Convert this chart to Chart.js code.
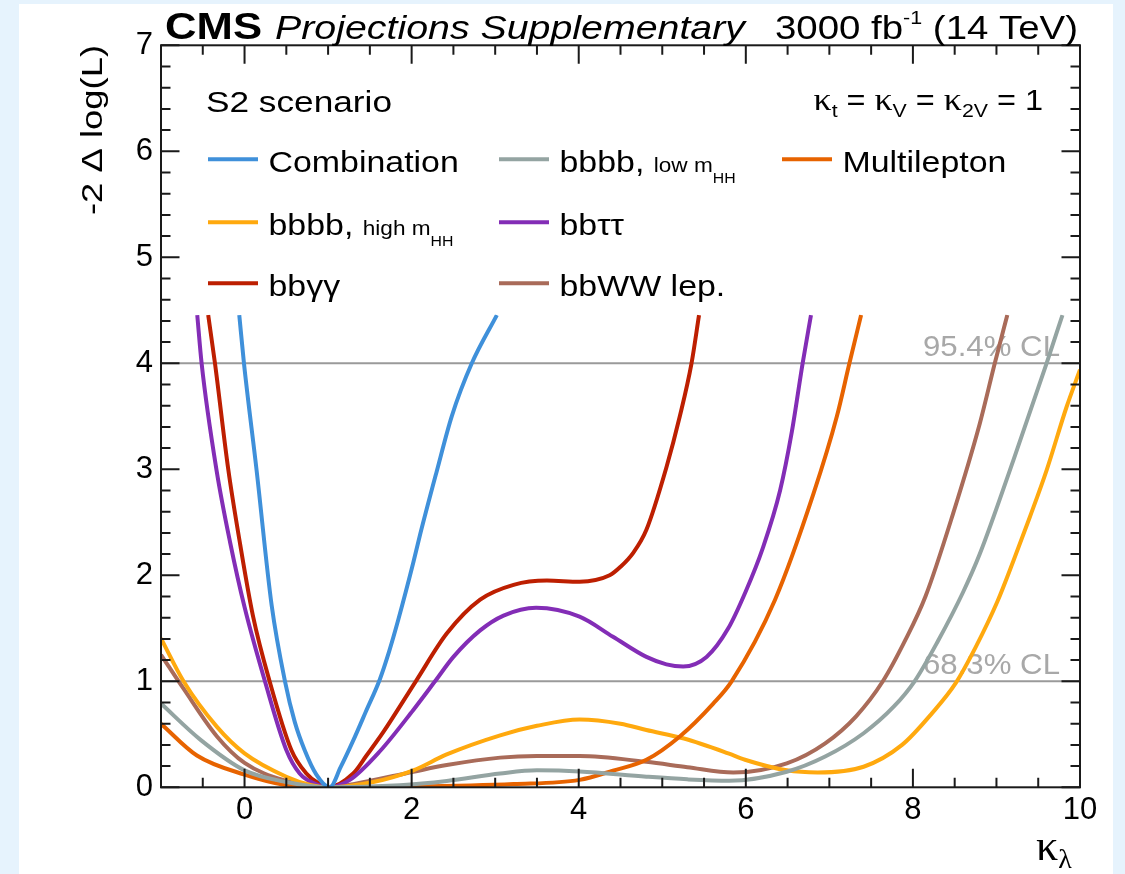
<!DOCTYPE html>
<html>
<head>
<meta charset="utf-8">
<script src="https://cdn.jsdelivr.net/npm/chart.js@4.4.1/dist/chart.umd.min.js"></script>
<style>
  html, body { margin: 0; padding: 0; background: #e6f3fd; }
  #wrap { position: absolute; left: 19px; top: 4px; width: 1094px; height: 870px; background: #fff; }
</style>
</head>
<body>
<div id="wrap"><canvas id="chartKappa" width="1094" height="870"></canvas></div>
<script>
// kappa_lambda scan points
const combX = [-0.063, -0.007, 0.145, 0.324, 0.484, 0.60, 0.72, 0.86, 1.02, 1.15, 1.30, 1.45, 1.62, 1.73, 1.84, 2.02, 2.10, 2.30, 2.48, 2.72, 3.02];
const combY = [4.455, 4.0, 2.985, 1.72, 1.0, 0.62, 0.35, 0.12, 0.0, 0.19, 0.44, 0.71, 1.02, 1.28, 1.58, 2.12, 2.38, 2.98, 3.5, 4.0, 4.455];

const lowX = [-1, -0.53, 0, 0.5, 1.0, 1.86, 2.42, 3.06, 3.5, 4.01, 4.81, 5.3, 5.8, 6.49, 6.95, 7.41, 7.77, 8.02, 8.3, 8.6, 8.8, 9.2, 9.4, 9.6, 9.79];
const lowY = [0.79, 0.45, 0.16, 0.05, 0, 0.02, 0.06, 0.13, 0.16, 0.15, 0.10, 0.075, 0.062, 0.147, 0.29, 0.51, 0.76, 1.0, 1.38, 1.84, 2.2, 3.08, 3.54, 4.0, 4.455];

const mlX = [-1, -0.57, 0, 0.5, 1.0, 2.0, 3.22, 4.01, 4.41, 4.81, 5.21, 5.61, 5.83, 6.35, 6.81, 7.09, 7.24, 7.38];
const mlY = [0.60, 0.30, 0.12, 0.02, 0, 0.005, 0.03, 0.07, 0.157, 0.26, 0.48, 0.79, 1.0, 1.77, 2.77, 3.5, 4.0, 4.455];

const highX = [-1, -0.73, -0.33, 0, 0.5, 0.8, 1.0, 1.54, 2.02, 2.42, 3.06, 3.5, 4.01, 4.5, 4.81, 5.26, 5.79, 5.99, 6.49, 6.86, 7.41, 7.87, 8.23, 8.51, 8.75, 9.01, 9.2, 9.4, 9.6, 9.84, 10.0];
const highY = [1.405, 1.0, 0.57, 0.32, 0.10, 0.02, 0, 0.05, 0.16, 0.31, 0.49, 0.58, 0.64, 0.60, 0.54, 0.46, 0.32, 0.26, 0.16, 0.14, 0.194, 0.40, 0.70, 0.98, 1.32, 1.75, 2.13, 2.55, 2.99, 3.59, 3.94];

const tautauX = [-0.566, -0.514, -0.334, -0.17, 0.0, 0.244, 0.50, 0.66, 0.85, 1.0, 1.26, 1.62, 2.02, 2.28, 2.5, 2.82, 3.1, 3.49, 4.01, 4.41, 4.81, 5.05, 5.25, 5.53, 5.79, 6.0, 6.2, 6.41, 6.55, 6.68, 6.78];
const tautauY = [4.455, 4.0, 2.985, 2.3, 1.7, 1.0, 0.352, 0.13, 0.03, 0, 0.07, 0.34, 0.73, 1.0, 1.23, 1.48, 1.62, 1.694, 1.61, 1.42, 1.23, 1.16, 1.14, 1.23, 1.50, 1.85, 2.25, 2.8, 3.35, 4.0, 4.455];

const ggX = [-0.435, -0.354, -0.195, -0.05, 0.1, 0.30, 0.56, 0.74, 0.88, 1.0, 1.30, 1.46, 1.66, 2.05, 2.42, 2.82, 3.22, 3.62, 4.01, 4.37, 4.5, 4.65, 4.81, 5.05, 5.21, 5.35, 5.44];
const ggY = [4.455, 4.0, 3.0, 2.28, 1.62, 1.0, 0.352, 0.13, 0.04, 0, 0.13, 0.3, 0.52, 1.0, 1.45, 1.77, 1.91, 1.95, 1.94, 2.0, 2.08, 2.21, 2.43, 3.02, 3.5, 4.0, 4.455];

const wwX = [-1, -0.73, -0.33, 0, 0.5, 0.8, 1.0, 1.3, 2.02, 2.42, 3.06, 3.5, 4.01, 4.81, 5.3, 5.85, 6.49, 6.95, 7.32, 7.64, 7.91, 8.15, 8.48, 8.8, 8.98, 9.13];
const wwY = [1.25, 0.93, 0.48, 0.23, 0.06, 0.015, 0, 0.03, 0.147, 0.21, 0.28, 0.295, 0.295, 0.24, 0.19, 0.14, 0.226, 0.415, 0.67, 1.0, 1.39, 1.8, 2.58, 3.43, 4.0, 4.455];

const seriesNames = ['Combination', 'bbbb, low m_HH', 'Multilepton', 'bbbb, high m_HH', 'bbττ', 'bbγγ', 'bbWW lep.'];
const seriesColors = ['#3f90da', '#94a4a2', '#e76300', '#ffa90e', '#832db6', '#bd1f01', '#a96b59'];
const seriesXs = [combX, lowX, mlX, highX, tautauX, ggX, wwX];
const seriesYs = [combY, lowY, mlY, highY, tautauY, ggY, wwY];

const xTickVals = [0, 2, 4, 6, 8, 10];
const yTickVals = [0, 1, 2, 3, 4, 5, 6, 7];
const clLevels = [1, 4];
const clNames = ['68.3% CL', '95.4% CL'];

const SANS = '"Liberation Sans", Arial, sans-serif';
const SERIF = '"Liberation Serif", "Times New Roman", serif';
const f = (size, extra) => (extra ? extra + ' ' : '') + size + 'px ' + SANS;

// legend slots (column, row) like the ROOT legend
const legendCols = [189, 480, 763];
const legendRows = [155.3, 218.3, 279.3];
const legendSlots = [[0, 0], [1, 0], [2, 0], [0, 1], [1, 1], [0, 2], [1, 2]];

// draws pieces of text one after the other, stretched by sx (the plot text is wide)
function richText(ctx, parts, x, y, sx, draw) {
    let cx = x;
    parts.forEach(p => {
        ctx.font = p.font;
        const w = ctx.measureText(p.t).width * sx;
        if (draw !== false) {
            ctx.save();
            ctx.translate(cx, y + (p.dy || 0));
            ctx.scale(sx, 1);
            ctx.textAlign = 'left';
            ctx.textBaseline = 'alphabetic';
            ctx.fillText(p.t, 0, 0);
            ctx.restore();
        }
        cx += w;
    });
    return cx - x;
}

function fitText(ctx, parts, x, y, width) {
    const w0 = richText(ctx, parts, 0, 0, 1, false);
    richText(ctx, parts, x, y, width / w0);
}

function legendParts(label) {
    const m = label.match(/^(.*?, )(.*)_(.*)$/);
    if (!m) return [{ t: label, font: f(30) }];
    return [{ t: m[1], font: f(30) }, { t: m[2], font: f(20) }, { t: m[3], font: f(14), dy: 11 }];
}

const decoPlugin = {
    id: 'deco',
    beforeDatasetsDraw(chart) {
        const { ctx, chartArea: a, scales: { y } } = chart;
        ctx.save();
        clLevels.forEach((lv, i) => {
            const py = y.getPixelForValue(lv);
            ctx.strokeStyle = '#9a9a9a';
            ctx.lineWidth = 2;
            ctx.beginPath();
            ctx.moveTo(a.left, py);
            ctx.lineTo(a.right, py);
            ctx.stroke();
            ctx.fillStyle = '#a8a8a8';
            fitText(ctx, [{ t: clNames[i], font: f(30) }], a.right - 157, py - 7.5, 137);
        });
        ctx.restore();
    },
    afterDatasetsDraw(chart) {
        const { ctx, chartArea: a, scales: { x, y } } = chart;
        ctx.save();

        // legend box hides the curves above ~4.46
        ctx.fillStyle = '#fff';
        const boxBottom = y.getPixelForValue(4.46);
        ctx.fillRect(a.left + 1, a.top + 1, a.right - a.left - 2, boxBottom - a.top - 1);

        ctx.fillStyle = '#000';
        fitText(ctx, [{ t: 'S2 scenario', font: f(29) }], 187, 107.7, 186);

        const kParts = [
            { t: 'κ', font: '32px ' + SERIF }, { t: 't', font: f(19), dy: 7 },
            { t: ' = ', font: f(29) },
            { t: 'κ', font: '32px ' + SERIF }, { t: 'V', font: f(19), dy: 7 },
            { t: ' = ', font: f(29) },
            { t: 'κ', font: '32px ' + SERIF }, { t: '2V', font: f(19), dy: 7 },
            { t: ' = 1', font: f(29) }
        ];
        const kw = richText(ctx, kParts, 0, 0, 1.12, false);
        richText(ctx, kParts, 1024 - kw, 106, 1.12);

        chart.data.datasets.forEach((ds, i) => {
            const lx = legendCols[legendSlots[i][0]];
            const ly = legendRows[legendSlots[i][1]];
            ctx.strokeStyle = ds.borderColor;
            ctx.lineWidth = 4;
            ctx.beginPath();
            ctx.moveTo(lx, ly);
            ctx.lineTo(lx + 50, ly);
            ctx.stroke();
            ctx.fillStyle = '#000';
            richText(ctx, legendParts(ds.label), lx + 60.5, ly + 12.4, 1.13);
        });

        // frame with inward ticks on all sides
        ctx.strokeStyle = '#1a1a1a';
        ctx.lineWidth = 2;
        ctx.strokeRect(a.left, a.top, a.right - a.left, a.bottom - a.top);
        ctx.beginPath();
        for (let v = -1; v <= 10.001; v += 0.5) {
            const px = x.getPixelForValue(v);
            const len = (Math.abs(v % 2) < 1e-6) ? 18.5 : 9.5;
            ctx.moveTo(px, a.bottom); ctx.lineTo(px, a.bottom - len);
            ctx.moveTo(px, a.top); ctx.lineTo(px, a.top + len);
        }
        for (let k = 0; k <= 35; k++) {
            const py = y.getPixelForValue(k * 0.2);
            const len = (k % 5 === 0) ? 18.5 : 9.5;
            ctx.moveTo(a.left, py); ctx.lineTo(a.left + len, py);
            ctx.moveTo(a.right, py); ctx.lineTo(a.right - len, py);
        }
        ctx.stroke();

        // header
        ctx.fillStyle = '#000';
        fitText(ctx, [{ t: 'CMS', font: f(37, 'bold') }], 146, 35, 97);
        fitText(ctx, [{ t: 'Projections Supplementary', font: f(34, 'italic') }], 256, 35, 470);
        fitText(ctx, [
            { t: '3000 fb', font: f(34) },
            { t: '-1', font: f(19), dy: -15 },
            { t: ' (14 TeV)', font: f(34) }
        ], 756, 35, 303);

        // axis titles
        ctx.save();
        ctx.translate(83, 211);
        ctx.rotate(-Math.PI / 2);
        fitText(ctx, [{ t: '-2 Δ log(L)', font: f(30) }], 0, 0, 170);
        ctx.restore();
        richText(ctx, [
            { t: 'κ', font: '44px ' + SERIF },
            { t: 'λ', font: '28px ' + SERIF, dy: 8 }
        ], 1017, 856, 1);

        ctx.restore();
    }
};

const ctx = document.getElementById('chartKappa').getContext('2d');
const chart = new Chart(ctx, {
    type: 'line',
    data: {
        datasets: seriesNames.map((name, i) => ({
            label: name,
            data: seriesXs[i].map((xv, j) => ({ x: xv, y: seriesYs[i][j] })),
            borderColor: seriesColors[i],
            borderWidth: 4,
            pointRadius: 0,
            fill: false,
            cubicInterpolationMode: 'monotone'
        }))
    },
    options: {
        responsive: false,
        devicePixelRatio: 1,
        animation: false,
        layout: { padding: { left: 0, top: 41.3, right: 33, bottom: 0 } },
        plugins: {
            legend: { display: false },
            tooltip: { enabled: false }
        },
        scales: {
            x: {
                type: 'linear',
                min: -1,
                max: 10,
                afterBuildTicks: s => { s.ticks = xTickVals.map(v => ({ value: v })); },
                afterFit: s => { s.height = 86.7; },
                grid: { display: false, drawTicks: false },
                border: { display: false },
                ticks: {
                    color: '#000',
                    font: { family: SANS, size: 31 },
                    padding: 5,
                    maxRotation: 0
                }
            },
            y: {
                type: 'linear',
                min: 0,
                max: 7,
                afterBuildTicks: s => { s.ticks = yTickVals.map(v => ({ value: v })); },
                afterFit: s => { s.width = 142; },
                grid: { display: false, drawTicks: false },
                border: { display: false },
                ticks: {
                    color: '#000',
                    font: { family: SANS, size: 31 },
                    padding: 8
                }
            }
        }
    },
    plugins: [decoPlugin]
});
</script>
</body>
</html>
